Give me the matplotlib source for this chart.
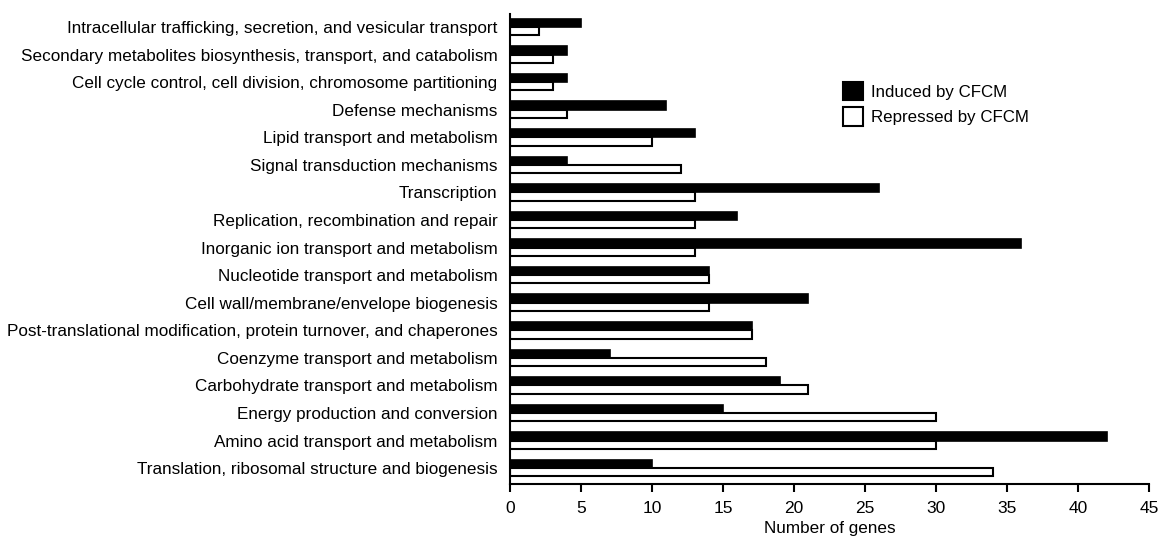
import matplotlib
matplotlib.use("Agg")
import matplotlib.pyplot as plt
import numpy as np
from matplotlib.patches import Patch

plt.rcParams['font.family'] = ['Liberation Sans', 'DejaVu Sans']

categories = [
    "Intracellular trafficking, secretion, and vesicular transport",
    "Secondary metabolites biosynthesis, transport, and catabolism",
    "Cell cycle control, cell division, chromosome partitioning",
    "Defense mechanisms",
    "Lipid transport and metabolism",
    "Signal transduction mechanisms",
    "Transcription",
    "Replication, recombination and repair",
    "Inorganic ion transport and metabolism",
    "Nucleotide transport and metabolism",
    "Cell wall/membrane/envelope biogenesis",
    "Post-translational modification, protein turnover, and chaperones",
    "Coenzyme transport and metabolism",
    "Carbohydrate transport and metabolism",
    "Energy production and conversion",
    "Amino acid transport and metabolism",
    "Translation, ribosomal structure and biogenesis",
]
induced = [5, 4, 4, 11, 13, 4, 26, 16, 36, 14, 21, 17, 7, 19, 15, 42, 10]
repressed = [2, 3, 3, 4, 10, 12, 13, 13, 13, 14, 14, 17, 18, 21, 30, 30, 34]
xticks = [0, 5, 10, 15, 20, 25, 30, 35, 40, 45]

fig = plt.figure(figsize=(11.62, 5.38), dpi=100)
ax = fig.add_axes([0.439, 0.100, 0.550, 0.874])

y = np.arange(len(categories))
h = 0.30
ax.barh(y - h / 2, induced, height=h, color='black', edgecolor='black', linewidth=1.2)
ax.barh(y + h / 2, repressed, height=h, color='white', edgecolor='black', linewidth=1.5)

ax.set_ylim(len(categories) - 1 + 0.58, -0.47)
ax.set_xlim(0, 45)
ax.set_yticks(y)
ax.set_yticklabels(categories, fontsize=12.3)
ax.set_xticks(xticks)
ax.set_xticklabels([str(t) for t in xticks], fontsize=12.5)
ax.tick_params(axis='y', length=0, pad=9)
ax.tick_params(axis='x', length=6, width=1.5, pad=6)
ax.set_xlabel("Number of genes", fontsize=12.3, labelpad=4)

for s in ['top', 'right']:
    ax.spines[s].set_visible(False)
for s in ['left', 'bottom']:
    ax.spines[s].set_linewidth(1.5)

handles = [Patch(facecolor='black', edgecolor='black', linewidth=1.5),
           Patch(facecolor='white', edgecolor='black', linewidth=1.5)]
fig.legend(handles, ["Induced by CFCM", "Repressed by CFCM"],
           loc='upper left', bbox_to_anchor=(0.712, 0.876), frameon=False,
           fontsize=12.2, handlelength=1.2, handleheight=1.3, handletextpad=0.45,
           labelspacing=0.4)

fig.savefig("out.png", dpi=100)
